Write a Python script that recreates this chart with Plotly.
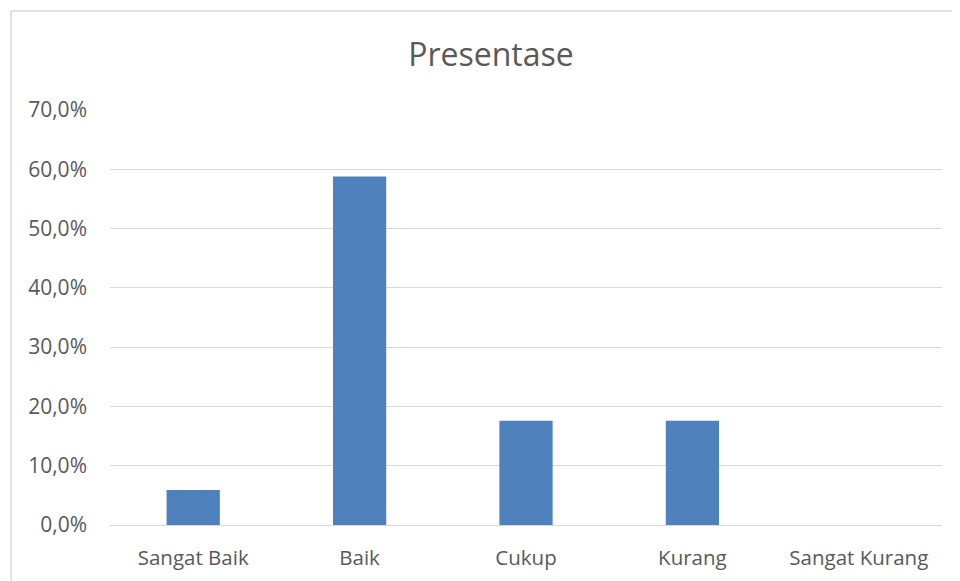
import plotly.graph_objects as go

categories = ["Sangat Baik", "Baik", "Cukup", "Kurang", "Sangat Kurang"]
presentase = [5.9, 58.8, 17.6, 17.6, 0.0]
y_ticks = [0, 10, 20, 30, 40, 50, 60, 70]
y_tick_text = [f"{v:.1f}%".replace(".", ",") for v in y_ticks]

# page body has an 8px margin, so the figure starts at (8, 8)
W, H = 952, 573
L, R, T, B = 102, 18, 102, 56
pw, ph = W - L - R, H - T - B

fig = go.Figure(go.Bar(x=categories, y=presentase, marker_color="#4F81BD",
                       marker_line_width=0))

bx0 = (3 - L) / pw
by1 = 1 + (T - 3) / ph
border = dict(color="#d9d9d9", width=1.5)

fig.update_layout(
    width=W, height=H,
    margin=dict(l=L, r=R, t=T, b=B, autoexpand=False),
    paper_bgcolor="white", plot_bgcolor="white",
    separators=",.",
    bargap=0.68,
    showlegend=False,
    font=dict(family="Open Sans", color="#595959"),
    title=dict(text="Presentase", x=483 / W, xref="container", xanchor="center",
               y=1 - 47 / H, yref="container", yanchor="middle",
               font=dict(size=32, color="#595959", family="Open Sans")),
    xaxis=dict(showgrid=False, showline=False, ticks="",
               tickfont=dict(size=20.5, color="#595959"), ticklabelstandoff=18),
    yaxis=dict(range=[0, 70], tickvals=y_ticks, ticktext=y_tick_text,
               showgrid=True, gridcolor="#d9d9d9", gridwidth=1,
               zeroline=True, zerolinecolor="#d9d9d9", zerolinewidth=1,
               showline=False, ticks="",
               tickfont=dict(size=21, color="#595959"), ticklabelstandoff=22),
    shapes=[
        dict(type="line", xref="paper", yref="paper", x0=bx0, x1=1 + 40 / pw,
             y0=by1, y1=by1, line=border, layer="below"),
        dict(type="line", xref="paper", yref="paper", x0=bx0, x1=bx0,
             y0=-80 / ph, y1=by1, line=border, layer="below"),
    ],
)

fig.write_html("out.html")
